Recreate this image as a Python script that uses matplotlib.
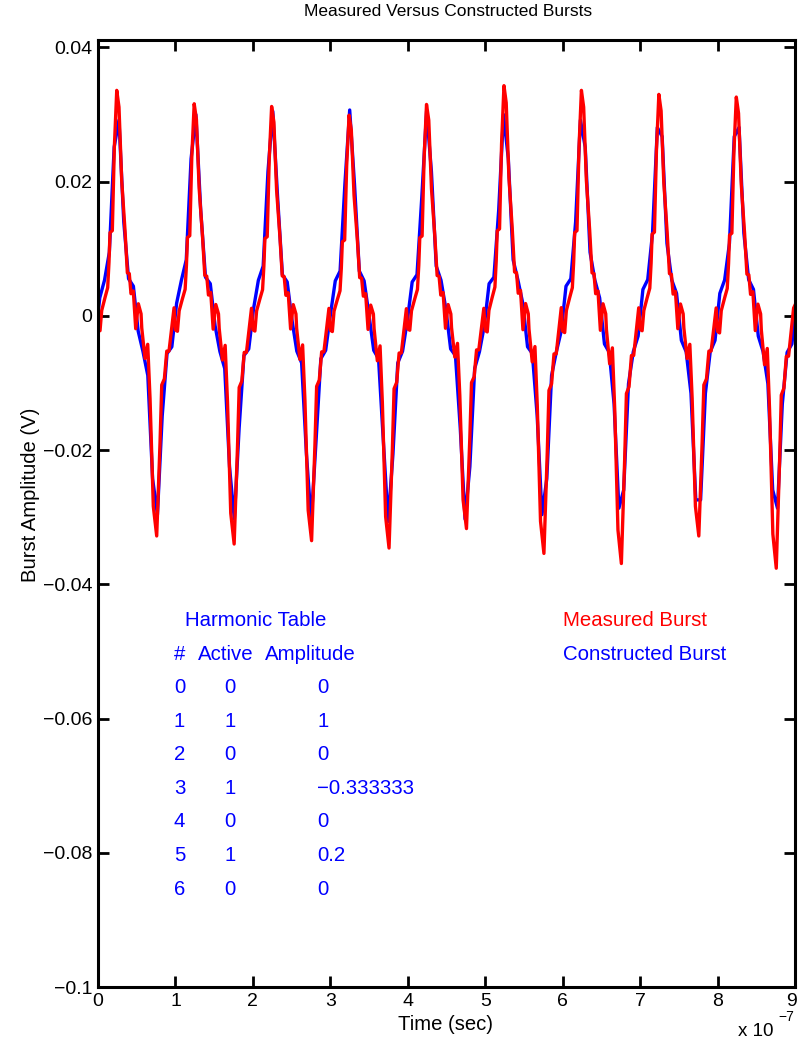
import numpy as np
import matplotlib
matplotlib.use("Agg")
from matplotlib import pyplot as plt
from matplotlib import transforms

plt.rcParams.update({"font.family": ["Liberation Sans", "DejaVu Sans"],
                     "font.size": 14,
                     "axes.linewidth": 2.2,
                     "xtick.direction": "in",
                     "ytick.direction": "in",
                     "xtick.major.size": 8,
                     "ytick.major.size": 8,
                     "xtick.major.width": 2,
                     "ytick.major.width": 2,
                     "xtick.top": True,
                     "ytick.right": True})

# Harmonic table used to build the synthetic burst
harmonic_num = [0, 1, 2, 3, 4, 5, 6]
harmonic_active = [0, 1, 0, 1, 0, 1, 0]
harmonic_amp = [0, 1, 0, -0.333333, 0, 0.2, 0]
burst_freq = 1e7        # fundamental, Hz
volts_per_unit = 0.02   # scale of a unit harmonic amplitude
n_cycles = 9
n_samples = 145         # samples of the constructed burst over the record
sample_start = 0.0224e-7

# One cycle of the scope trace (phase in cycles, volts)
cycle_phase = [0.0, 0.026, 0.048, 0.090, 0.125, 0.142, 0.155, 0.185, 0.211, 0.242,
               0.271, 0.306, 0.349, 0.379, 0.404, 0.426, 0.456, 0.487, 0.521, 0.556,
               0.565, 0.607, 0.642, 0.672, 0.714, 0.758, 0.801, 0.823, 0.857, 0.888,
               0.917, 0.952, 0.982]
cycle_volts = [-0.0020, -0.0022, 0.0008, 0.0027, 0.0042, 0.0080, 0.0124, 0.0127, 0.0251, 0.0336,
               0.0311, 0.0202, 0.0127, 0.0064, 0.0063, 0.0033, 0.0037, -0.0019, 0.0018, 0.0003,
               -0.0018, -0.0063, -0.0042, -0.0122, -0.0281, -0.0325, -0.0187, -0.0102, -0.0093, -0.0052,
               -0.0052, -0.0018, 0.0012]
# per-cycle extremes of the measured trace
cycle_peak = [0.0336, 0.0316, 0.0312, 0.0299, 0.0315, 0.0343, 0.0336, 0.0330, 0.0326]
cycle_trough = [-0.0328, -0.0340, -0.0335, -0.0346, -0.0317, -0.0354, -0.0369, -0.0328, -0.0376]
trace_end = 0.0016

x_ticks = [0, 1, 2, 3, 4, 5, 6, 7, 8, 9]
y_ticks = [-0.1, -0.08, -0.06, -0.04, -0.02, 0, 0.02, 0.04]
y_ticklabels = ["\u22120.1", "\u22120.08", "\u22120.06", "\u22120.04", "\u22120.02", "0", "0.02", "0.04"]


def fmt(v):
    return f"{v:g}".replace("-", "\u2212")


# constructed burst from the table, on the sample grid
step = n_cycles / burst_freq / n_samples
t = sample_start + step * np.arange(-1, n_samples + 1)
constructed = np.zeros_like(t)
for n, on, a in zip(harmonic_num, harmonic_active, harmonic_amp):
    if on:
        constructed += volts_per_unit * a * np.sin(2 * np.pi * n * burst_freq * t)

# measured burst: the recorded cycle with each cycle's own extremes
ph = np.array(cycle_phase)
cv = np.array(cycle_volts)
pos_ref, neg_ref = cv.max(), cv.min()
mt, mv = [], []
for k in range(n_cycles):
    scaled = np.where(cv >= 0, cv * cycle_peak[k] / pos_ref, cv * cycle_trough[k] / neg_ref)
    mt.extend((k + ph) / burst_freq)
    mv.extend(scaled)
mt.append(n_cycles / burst_freq)
mv.append(trace_end)

fig = plt.figure(figsize=(7.99, 10.46), dpi=100)
ax = fig.add_axes([98 / 799, 59 / 1046, 697 / 799, 947 / 1046])

ax.plot(t, constructed, color="#0000ff", lw=2.4)
ax.plot(mt, mv, color="#ff0000", lw=2.4)

ax.set_xlim(0, n_cycles / burst_freq)
ax.set_ylim(-0.1, 0.0411)
ax.set_xticks([x / burst_freq for x in x_ticks])
ax.set_xticklabels([str(x) for x in x_ticks])
ax.set_yticks(y_ticks)
ax.set_yticklabels(y_ticklabels)
ax.tick_params(axis="both", labelsize=14, pad=4)
last = ax.get_xticklabels()[-1]
last.set_horizontalalignment("right")
last.set_transform(last.get_transform() + transforms.ScaledTranslation(2 / 100, 0, fig.dpi_scale_trans))

# harmonic table text
blue = "#0000ff"
fs = 14.7
dy = -0.0004
ax.text(1.12e-7, -0.045 + dy, "Harmonic Table", color=blue, va="center", fontsize=fs)
ax.text(0.98e-7, -0.05 + dy, "#", color=blue, va="center", fontsize=fs)
ax.text(1.29e-7, -0.05 + dy, "Active", color=blue, va="center", fontsize=fs)
ax.text(2.16e-7, -0.05 + dy, "Amplitude", color=blue, va="center", fontsize=fs)
for i, (n, on, a) in enumerate(zip(harmonic_num, harmonic_active, harmonic_amp)):
    y = -0.055 - 0.005 * i + dy
    ax.text(0.98e-7, y, str(n), color=blue, va="center", fontsize=fs)
    ax.text(1.63e-7, y, str(on), color=blue, va="center", fontsize=fs)
    ax.text(2.83e-7, y, fmt(a), color=blue, va="center", fontsize=fs)

ax.text(6.0e-7, -0.045 + dy, "Measured Burst", color="#ff0000", va="center", fontsize=fs)
ax.text(6.0e-7, -0.05 + dy, "Constructed Burst", color=blue, va="center", fontsize=fs)

fig.text(448 / 799, 1 - 12 / 1046, "Measured Versus Constructed Bursts",
         ha="center", va="center", fontsize=12.5)
fig.text(446 / 799, 1 - 1025 / 1046, "Time (sec)", ha="center", va="center", fontsize=14.6)
fig.text(30 / 799, 1 - 495 / 1046, "Burst Amplitude (V)", ha="center", va="center",
         rotation=90, fontsize=14.6)
fig.text(738 / 799, 1 - 1031 / 1046, "x 10", ha="left", va="center", fontsize=13.5)
fig.text(778 / 799, 1 - 1017 / 1046, "\u22127", ha="left", va="center", fontsize=10)

fig.savefig("out.png", dpi=100)
